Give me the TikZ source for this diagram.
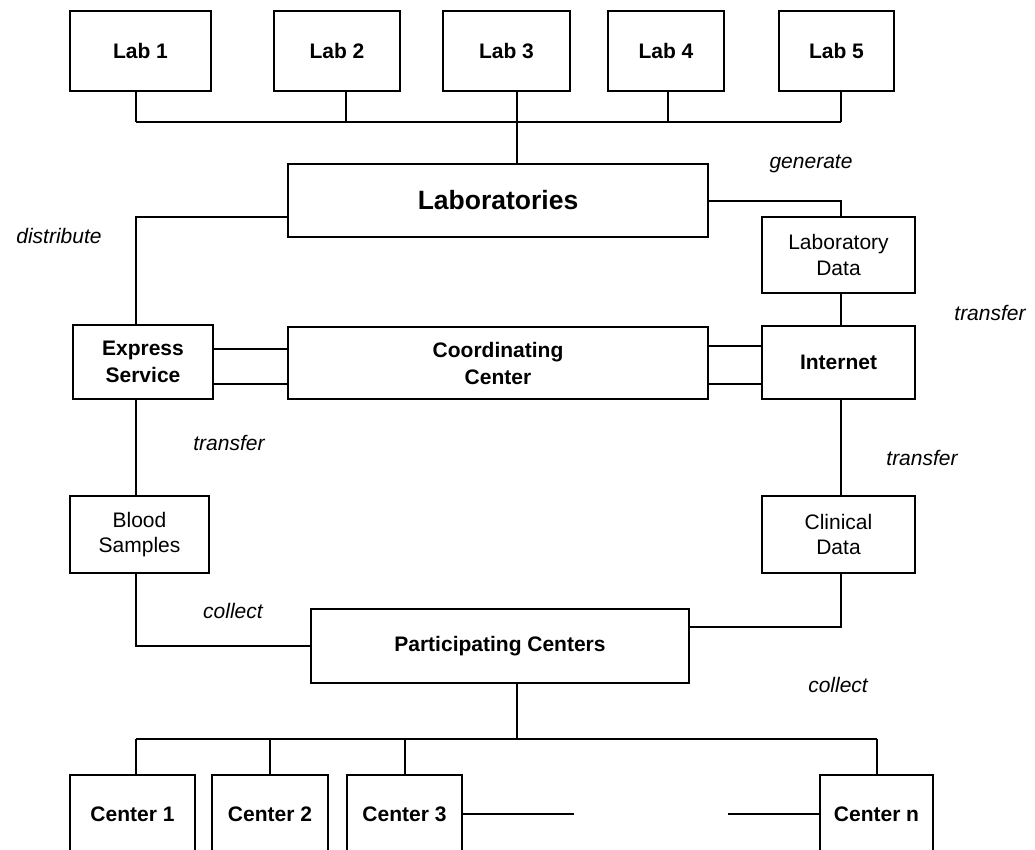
\documentclass[tikz,border=0pt]{standalone}
\usepackage{fontspec}
\setmainfont{Liberation Sans}
\usepackage{tikz}
\usetikzlibrary{positioning,calc}

\tikzset{
	unit/.style={draw, line width=2pt, inner sep=0pt, align=center},
	boldunit/.style={unit, font=\fontsize{21}{27}\selectfont\bfseries},
	plainunit/.style={unit, font=\fontsize{21}{25.5}\selectfont},
	verb/.style={inner sep=0pt, font=\fontsize{21}{25}\selectfont\itshape},
	wire/.style={line width=2pt}
}

\begin{document}
\begin{tikzpicture}[x=1pt, y=-1pt]
						\useasboundingbox (0,0) rectangle (1035,849);
						\clip (0,0) rectangle (1035,849);

						% columns and taps
						\coordinate (LCOL) at (136, 217);
						\coordinate (RCOL) at (841, 200.5);
						\coordinate (TAP1) at (136, 122);
						\coordinate (TAP2) at (346, 122);
						\coordinate (TAP3) at (517, 122);
						\coordinate (TAP4) at (668, 122);
						\coordinate (TAP5) at (841, 122);
						\coordinate (DROP) at (517, 739);
						\coordinate (CTAP1) at (136, 739);
						\coordinate (CTAP2) at (270, 739);
						\coordinate (CTAP3) at (405, 739);
						\coordinate (CTAPN) at (877, 739);
						\coordinate (GAPL) at (574, 814);
						\coordinate (GAPR) at (728, 814);

						\node[boldunit, minimum width=141pt, minimum height=80pt] (lab1) at (140.5, 51) {Lab 1};
						\node[boldunit, minimum width=126pt, minimum height=80pt] (lab2) at (337, 51) {Lab 2};
						\node[boldunit, minimum width=127pt, minimum height=80pt] (lab3) at (506.5, 51) {Lab 3};
						\node[boldunit, minimum width=116pt, minimum height=80pt] (lab4) at (666, 51) {Lab 4};
						\node[boldunit, minimum width=115pt, minimum height=80pt] (lab5) at (836.5, 51) {Lab 5};

						\node[unit, font=\fontsize{26.5}{30}\selectfont\bfseries, minimum width=420pt, minimum height=73pt] (labs) at (498, 200.5) {Laboratories};
						\node[plainunit, minimum width=153pt, minimum height=76pt] (labdata) at (838.5, 255) {Laboratory\\Data};

						\node[boldunit, minimum width=140pt, minimum height=74pt] (express) at (143, 362) {Express\\Service};
						\node[boldunit, minimum width=420pt, minimum height=72pt] (coord) at (498, 363) {Coordinating\\Center};
						\node[boldunit, minimum width=153pt, minimum height=73pt] (internet) at (838.5, 362.5) {Internet};

						\node[plainunit, minimum width=139pt, minimum height=77pt] (blood) at (139.5, 534.5) {Blood\\Samples};
						\node[plainunit, minimum width=153pt, minimum height=77pt] (clinical) at (838.5, 534.5) {Clinical\\Data};

						\node[boldunit, minimum width=378pt, minimum height=74pt] (partic) at (500, 646) {Participating Centers};

						\node[boldunit, minimum width=125pt, minimum height=78pt] (center1) at (132.5, 814) {Center 1};
						\node[boldunit, minimum width=116pt, minimum height=78pt] (center2) at (270, 814) {Center 2};
						\node[boldunit, minimum width=115pt, minimum height=78pt] (center3) at (404.5, 814) {Center 3};
						\node[boldunit, minimum width=113pt, minimum height=78pt] (centern) at (876.5, 814) {Center n};

						% labs to laboratories
						\draw[wire] (lab1.south -| TAP1) -- (TAP1);
						\draw[wire] (lab2.south -| TAP2) -- (TAP2);
						\draw[wire] (lab3.south -| TAP3) -- (TAP3);
						\draw[wire] (lab4.south -| TAP4) -- (TAP4);
						\draw[wire] (lab5.south -| TAP5) -- (TAP5);
						\draw[wire] (TAP1) -- (TAP5);
						\draw[wire] (TAP3) -- (TAP3 |- labs.north);

						% left branch
						\draw[wire] (labs.west |- LCOL) -- (LCOL) -- (LCOL |- express.north);
						\draw[wire] (LCOL |- express.south) -- (LCOL |- blood.north);
						\draw[wire] (LCOL |- blood.south) -- (LCOL |- partic.west) -- (partic.west);

						% right branch
						\draw[wire] (labs.east) -- (labs.east -| RCOL) -- (RCOL |- labdata.north);
						\draw[wire] (RCOL |- labdata.south) -- (RCOL |- internet.north);
						\draw[wire] (RCOL |- internet.south) -- (RCOL |- clinical.north);
						\draw[wire] (RCOL |- clinical.south) -- (RCOL |- 0,627) -- ([yshift=19pt]partic.east);

						% double links to the coordinating center
						\draw[wire] ([yshift=13pt]express.east) -- ([yshift=13pt]express.east -| coord.west);
						\draw[wire] ([yshift=-22pt]express.east) -- ([yshift=-22pt]express.east -| coord.west);
						\draw[wire] ([yshift=16.5pt]internet.west) -- ([yshift=16.5pt]internet.west -| coord.east);
						\draw[wire] ([yshift=-21.5pt]internet.west) -- ([yshift=-21.5pt]internet.west -| coord.east);

						% participating centers to the centers
						\draw[wire] (DROP |- partic.south) -- (DROP);
						\draw[wire] (CTAP1) -- (CTAPN);
						\draw[wire] (CTAP1) -- (CTAP1 |- center1.north);
						\draw[wire] (CTAP2) -- (CTAP2 |- center2.north);
						\draw[wire] (CTAP3) -- (CTAP3 |- center3.north);
						\draw[wire] (CTAPN) -- (CTAPN |- centern.north);
						\draw[wire] (center3.east) -- (GAPL);
						\draw[wire] (GAPR) -- (centern.west);

						\node[verb] (v-generate) at (811, 164) {generate};
						\node[verb] (v-distribute) at (59, 236) {distribute};
						\node[verb] (v-transfer1) at (990, 313) {transfer};
						\node[verb] (v-transfer2) at (229, 443) {transfer};
						\node[verb] (v-transfer3) at (922, 458) {transfer};
						\node[verb] (v-collect1) at (233, 611) {collect};
						\node[verb] (v-collect2) at (838, 685) {collect};
					\end{tikzpicture}
\end{document}
